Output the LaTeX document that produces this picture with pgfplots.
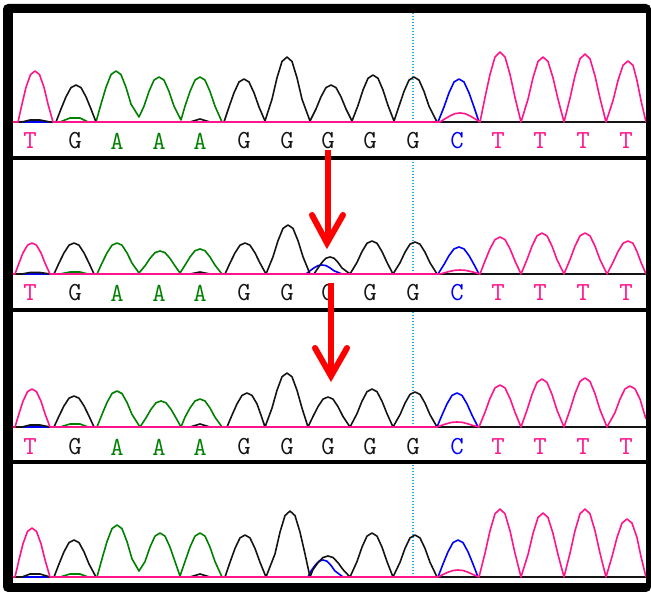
\documentclass[border=0pt]{standalone}
\usepackage{pgfplots}
\pgfplotsset{compat=1.18}

\definecolor{tpink}{RGB}{255,20,140}
\definecolor{agreen}{RGB}{0,128,0}
\definecolor{cblue}{RGB}{0,0,255}
\definecolor{dotcyan}{RGB}{40,170,230}
\definecolor{gblack}{RGB}{20,20,20}

\pgfplotsset{
  panel/.style={anchor=south west, scale only axis, width=633pt,
    xmin=13, xmax=646, axis lines=none, clip=true},
  trace/.style={line width=1.6pt, line join=round, no markers},
}

% base-call letters under each trace
\newcommand{\baserow}[1]{%
  \node[lt, text=tpink]  at (axis cs:30,#1)  {T};
  \node[lt, text=gblack] at (axis cs:75,#1)  {G};
  \node[lt, text=agreen] at (axis cs:117,#1) {A};
  \node[lt, text=agreen] at (axis cs:159,#1) {A};
  \node[lt, text=agreen] at (axis cs:200,#1) {A};
  \node[lt, text=gblack] at (axis cs:244,#1) {G};
  \node[lt, text=gblack] at (axis cs:287,#1) {G};
  \node[lt, text=gblack] at (axis cs:328,#1) {G};
  \node[lt, text=gblack] at (axis cs:370,#1) {G};
  \node[lt, text=gblack] at (axis cs:413,#1) {G};
  \node[lt, text=cblue]  at (axis cs:457,#1) {C};
  \node[lt, text=tpink]  at (axis cs:498,#1) {T};
  \node[lt, text=tpink]  at (axis cs:540,#1) {T};
  \node[lt, text=tpink]  at (axis cs:583,#1) {T};
  \node[lt, text=tpink]  at (axis cs:626,#1) {T};
}

\begin{document}
\begin{tikzpicture}[x=1pt,y=1pt,
  lt/.style={font=\fontsize{26}{26}\selectfont\ttfamily, inner sep=0pt, anchor=center},
  vdot/.style={dotcyan, line width=1.4pt, dash pattern=on 1.4pt off 1.6pt}]
\useasboundingbox (0,0) rectangle (651,592);
\fill[black, rounded corners=5pt] (3,0) rectangle (651,588);
\fill[white] (13,436) rectangle (646,579);
\fill[white] (13,284) rectangle (646,432);
\fill[white] (13,132) rectangle (646,280);
\fill[white] (13,9) rectangle (646,128);

% ---------- panel 1 ----------
\begin{axis}[panel, at={(13pt,436pt)}, height=143pt, ymin=-34, ymax=109]
\draw[vdot] (axis cs:413,0) -- (axis cs:413,109);
\addplot[trace, agreen] coordinates {
 (13,0)(60,0)(70,4)(80,4)(88,0)
 (96,0)(101,17.9)(106,34.7)(111,47.4)(116,51)(121,47.4)(126,34.7)(131,17.9)(139,5)
 (144,15.8)(149,30.6)(154,41.9)(159,45)(164,41.9)(169,30.6)(174,15.8)(181,2)
 (185,15.8)(190,30.6)(195,41.9)(200,45)(205,41.9)(210,30.6)(215,15.8)(222,0)(646,0)};
\addplot[trace, cblue] coordinates {
 (13,0)(438,0)(444,15)(449,29.2)(454,40)(459,43)(464,40)(469,29.2)(474,15)(479,0)(646,0)};
\addplot[trace, gblack] coordinates {
 (13,0)(22,0)(30,2)(40,2)(50,0)
 (56,0)(61,13)(66,25.2)(71,34.4)(76,37)(81,34.4)(86,25.2)(91,13)(96,0)
 (190,0)(200,3)(210,0)
 (224,0)(229,15)(234,29.2)(239,40)(244,43)(249,40)(254,29.2)(259,15)(265,1)
 (272,22.8)(277,44.2)(282,60.5)(287,65)(292,60.5)(297,44.2)(302,22.8)(310,1)
 (316,13)(321,25.2)(326,34.4)(331,37)(336,34.4)(341,25.2)(346,13)(352,1)
 (358,16.5)(363,32)(368,43.7)(373,47)(378,43.7)(383,32)(388,16.5)(394,1)
 (399,15.8)(404,30.6)(409,41.9)(414,45)(419,41.9)(424,30.6)(429,15.8)(437,0)(646,0)};
\addplot[trace, tpink] coordinates {
 (13,0)(18,0)(22,17.9)(26,34.7)(30.5,47.4)(35,51)(39.5,47.4)(44,34.7)(48,17.9)(53,0)
 (440,0)(445,3.2)(450,6.1)(455,8.4)(460,9)(465,8.4)(470,6.1)(475,3.2)(480,0)
 (485,24.5)(490,47.6)(495,65.1)(500,70)(505,65.1)(510,47.6)(515,24.5)(521,0)
 (528,22.8)(533,44.2)(538,60.5)(543,65)(548,60.5)(553,44.2)(558,22.8)(564,0)
 (570,23.8)(575,46.2)(580,63.2)(585,68)(590,63.2)(595,46.2)(600,23.8)(606,0)
 (613,21.4)(618,41.5)(623,56.7)(628,61)(633,56.7)(637,41.5)(641,21.4)(646,0)};
\baserow{-19}
\end{axis}

% ---------- panel 2 ----------
\begin{axis}[panel, at={(13pt,284pt)}, height=148pt, ymin=-34, ymax=114]
\draw[vdot] (axis cs:413,0) -- (axis cs:413,114);
\addplot[trace, agreen] coordinates {
 (13,0)(60,0)(70,2)(80,2)(88,0)
 (97,0)(102,10.9)(107,21.1)(112,28.8)(117,31)(122,28.8)(127,21.1)(132,10.9)(139,1)
 (145,8.1)(150,15.6)(155,21.4)(160,23)(165,21.4)(170,15.6)(175,8.1)(180,1)
 (185,8.8)(190,17)(195,23.3)(200,25)(205,23.3)(210,17)(215,8.8)(222,0)(646,0)};
\addplot[trace, cblue] coordinates {
 (13,0)(306,0)(310,3.2)(314,6.1)(318,8.4)(322,9)(326,8.4)(330,6.1)(334,3.2)(342,0)
 (438,0)(444,9.5)(449,18.4)(454,25.1)(459,27)(464,25.1)(469,18.4)(474,9.5)(479,0)(646,0)};
\addplot[trace, gblack] coordinates {
 (13,0)(22,0)(30,1.5)(40,1.5)(50,0)
 (54,0)(59,10.9)(64,21.1)(69,28.8)(74,31)(79,28.8)(84,21.1)(89,10.9)(94,0)
 (190,0)(200,2)(210,0)
 (225,0)(230,10.9)(235,21.1)(240,28.8)(245,31)(250,28.8)(255,21.1)(260,10.9)(266,0)
 (273,17.2)(278,33.3)(283,45.6)(288,49)(293,45.6)(298,33.3)(303,17.2)(310,0)
 (314,0)(318,6)(322,11.6)(326,15.8)(330,17)(334,15.8)(338,11.6)(342,6)(350,0)
 (357,11.6)(362,22.4)(367,30.7)(372,33)(377,30.7)(382,22.4)(387,11.6)(393,0)
 (400,11.2)(405,21.8)(410,29.8)(415,32)(420,29.8)(425,21.8)(430,11.2)(437,0)(646,0)};
\addplot[trace, tpink] coordinates {
 (13,0)(15,0)(19,10.9)(23,21.1)(27.5,28.8)(32,31)(36.5,28.8)(41,21.1)(45,10.9)(50,0)
 (440,0)(445,1.4)(450,2.7)(455,3.7)(460,4)(465,3.7)(470,2.7)(475,1.4)(480,0)
 (485,13)(490,25.2)(495,34.4)(500,37)(505,34.4)(510,25.2)(515,13)(521,0)
 (527,14.4)(532,27.9)(537,38.1)(542,41)(547,38.1)(552,27.9)(557,14.4)(564,0)
 (570,14.4)(575,27.9)(580,38.1)(585,41)(590,38.1)(595,27.9)(600,14.4)(607,0)
 (613,11.6)(618,22.4)(623,30.7)(628,33)(633,30.7)(637,22.4)(641,11.6)(646,0)};
\baserow{-19}
\end{axis}

% ---------- panel 3 ----------
\begin{axis}[panel, at={(13pt,132pt)}, height=148pt, ymin=-33, ymax=115]
\draw[vdot] (axis cs:413,0) -- (axis cs:413,115);
\addplot[trace, agreen] coordinates {
 (13,0)(60,0)(70,3)(80,3)(88,0)
 (97,0)(102,12.6)(107,24.5)(112,33.5)(117,36)(122,33.5)(127,24.5)(132,12.6)(140,0)
 (146,9.1)(151,17.7)(156,24.2)(161,26)(166,24.2)(171,17.7)(176,9.1)(181,0)
 (185,9.8)(190,19)(195,26)(200,28)(205,26)(210,19)(215,9.8)(222,0)(646,0)};
\addplot[trace, cblue] coordinates {
 (13,0)(437,0)(442,11.9)(447,23.1)(452,31.6)(457,34)(462,31.6)(467,23.1)(472,11.9)(478,0)(646,0)};
\addplot[trace, gblack] coordinates {
 (13,0)(22,0)(30,2)(40,2)(50,0)
 (54,0)(59,10.9)(64,21.1)(69,28.8)(74,31)(79,28.8)(84,21.1)(89,10.9)(94,0)
 (190,0)(200,3)(210,0)
 (227,0)(232,11.9)(237,23.1)(242,31.6)(247,34)(252,31.6)(257,23.1)(261,11.9)(265,0)
 (272,18.9)(277,36.7)(282,50.2)(287,54)(292,50.2)(297,36.7)(302,18.9)(308,0)
 (313,10.5)(318,20.4)(323,27.9)(328,30)(333,27.9)(338,20.4)(343,10.5)(350,0)
 (357,13.3)(362,25.8)(367,35.3)(372,38)(377,35.3)(382,25.8)(387,13.3)(393,0)
 (400,12.3)(405,23.8)(410,32.6)(415,35)(420,32.6)(425,23.8)(430,12.3)(437,0)(646,0)};
\addplot[trace, tpink] coordinates {
 (13,0)(15,0)(19,13.3)(23,25.8)(27.5,35.3)(32,38)(36.5,35.3)(41,25.8)(45,13.3)(50,0)
 (437,0)(442,1.8)(447,3.4)(452,4.7)(457,5)(462,4.7)(467,3.4)(472,1.8)(479,0)
 (485,14.7)(490,28.6)(495,39.1)(500,42)(505,39.1)(510,28.6)(515,14.7)(521,0)
 (527,16.8)(532,32.6)(537,44.6)(542,48)(547,44.6)(552,32.6)(557,16.8)(564,0)
 (570,17.2)(575,33.3)(580,45.6)(585,49)(590,45.6)(595,33.3)(600,17.2)(607,0)
 (615,14.4)(620,27.9)(625,38.1)(630,41)(635,38.1)(640,27.9)(644,14.4)(646,8)};
\baserow{-20}
\end{axis}

% ---------- panel 4 ----------
\begin{axis}[panel, at={(13pt,9pt)}, height=119pt, ymin=-6, ymax=113]
\draw[vdot] (axis cs:413,0) -- (axis cs:413,113);
\addplot[trace, agreen] coordinates {
 (13,0)(60,0)(70,3)(80,3)(88,0)
 (97,0)(102,18.2)(107,35.4)(112,48.4)(117,52)(122,48.4)(127,35.4)(132,18.2)(139,6)
 (145,15.4)(150,29.9)(155,40.9)(160,44)(165,40.9)(170,29.9)(175,15.4)(180,1)
 (185,15.4)(190,29.9)(195,40.9)(200,44)(205,40.9)(210,29.9)(215,15.4)(222,0)(646,0)};
\addplot[trace, cblue] coordinates {
 (13,0)(308,0)(311,6)(315,11.6)(319,15.8)(323,17)(327,15.8)(331,11.6)(335,6)(343,0)
 (438,0)(443,13)(448,25.2)(453,34.4)(458,37)(463,34.4)(468,25.2)(473,13)(478,0)(646,0)};
\addplot[trace, gblack] coordinates {
 (13,0)(22,0)(30,3)(40,3)(50,0)
 (54,0)(59,13)(64,25.2)(69,34.4)(74,37)(79,34.4)(84,25.2)(89,13)(96,0)
 (190,0)(200,3)(210,0)
 (225,0)(230,14.7)(235,28.6)(240,39.1)(245,42)(250,39.1)(255,28.6)(260,14.7)(266,0)
 (275,23.1)(280,44.9)(285,61.4)(290,66)(295,61.4)(300,44.9)(305,23.1)(310,0)
 (313,7.4)(318,14.3)(323,19.5)(328,21)(333,19.5)(338,14.3)(343,7.4)(350,0)
 (357,15.4)(362,29.9)(367,40.9)(372,44)(377,40.9)(382,29.9)(387,15.4)(393,0)
 (400,14.7)(405,28.6)(410,39.1)(415,42)(420,39.1)(425,28.6)(430,14.7)(437,0)(646,0)};
\addplot[trace, tpink] coordinates {
 (13,0)(15,0)(19,17.2)(23,33.3)(27.5,45.6)(32,49)(36.5,45.6)(41,33.3)(45,17.2)(50,0)
 (438,0)(443,2.5)(448,4.8)(453,6.5)(458,7)(463,6.5)(468,4.8)(473,2.5)(479,0)
 (485,23.8)(490,46.2)(495,63.2)(500,68)(505,63.2)(510,46.2)(515,23.8)(521,0)
 (528,22.4)(533,43.5)(538,59.5)(543,64)(548,59.5)(553,43.5)(558,22.4)(564,0)
 (570,23.8)(575,46.2)(580,63.2)(585,68)(590,63.2)(595,46.2)(600,23.8)(606,0)
 (612,20.3)(617,39.4)(622,53.9)(627,58)(632,53.9)(637,39.4)(641,20.3)(646,0)};
\end{axis}

% red arrows
\draw[red, line width=6pt] (328,442) -- (328,351);
\draw[red, line width=6pt, line cap=round, line join=miter] (312,377) -- (327,349) -- (343,377);
\draw[red, line width=6pt] (331,309) -- (331,218);
\draw[red, line width=6pt, line cap=round, line join=miter] (315,244) -- (331,216) -- (347,244);
\end{tikzpicture}
\end{document}
